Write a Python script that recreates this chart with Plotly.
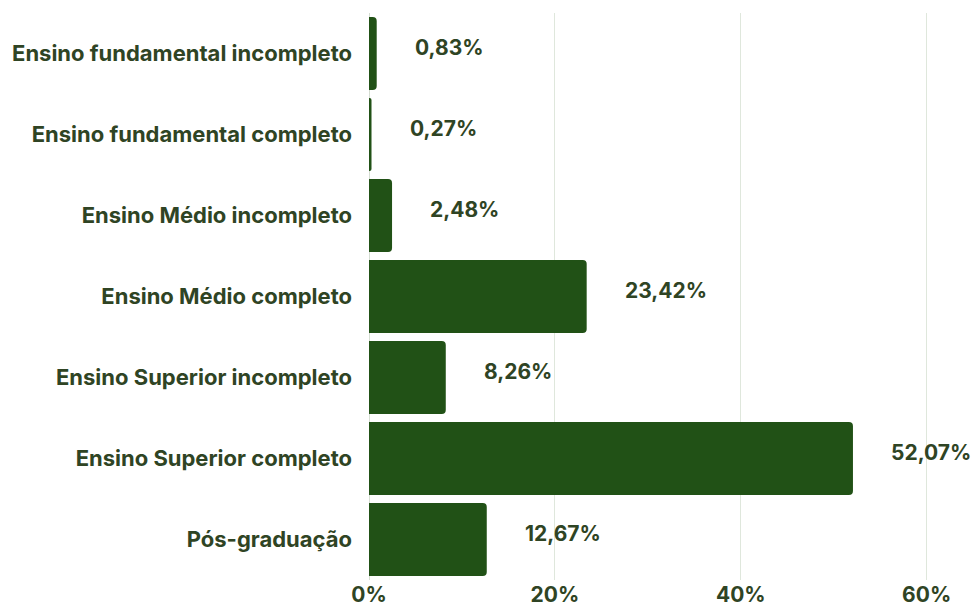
import plotly.graph_objects as go

categories = [
    "Ensino fundamental incompleto",
    "Ensino fundamental completo",
    "Ensino Médio incompleto",
    "Ensino Médio completo",
    "Ensino Superior incompleto",
    "Ensino Superior completo",
    "Pós-graduação",
]
values = [0.83, 0.27, 2.48, 23.42, 8.26, 52.07, 12.67]
value_labels = ["0,83%", "0,27%", "2,48%", "23,42%", "8,26%", "52,07%", "12,67%"]
tick_vals = [0, 20, 40, 60]
tick_text = ["0%", "20%", "40%", "60%"]

bar_color = "#215116"
text_color = "#2f4424"
font_family = "Inter, Roboto, sans-serif"

fig = go.Figure(
    go.Bar(
        x=values,
        y=categories,
        orientation="h",
        marker=dict(color=bar_color, line=dict(width=0)),
        hoverinfo="skip",
    )
)

for v, c, t in zip(values, categories, value_labels):
    fig.add_annotation(
        x=v, y=c, text=t, showarrow=False,
        xanchor="left", yanchor="middle", xshift=36, yshift=6,
        font=dict(family=font_family, size=21, color=text_color, weight="bold"),
    )

fig.update_layout(
    width=971, height=602,
    margin=dict(l=361, r=4, t=5, b=30),
    plot_bgcolor="white", paper_bgcolor="white",
    bargap=0.1,
    barcornerradius=4,
    showlegend=False,
    xaxis=dict(
        range=[0, 65.2], tickvals=tick_vals, ticktext=tick_text,
        showgrid=True, gridcolor="#dfe7dc", gridwidth=1,
        zeroline=True, zerolinecolor="#d5ddd2", zerolinewidth=1,
        tickfont=dict(family=font_family, size=21, color=text_color, weight="bold"),
        ticks="", showline=False, automargin=False,
    ),
    yaxis=dict(
        autorange="reversed",
        tickfont=dict(family=font_family, size=22, color=text_color, weight="bold"),
        ticks="", showline=False, showgrid=False, automargin=False,
        ticklabelstandoff=16,
    ),
)

fig.write_html("out.html")
